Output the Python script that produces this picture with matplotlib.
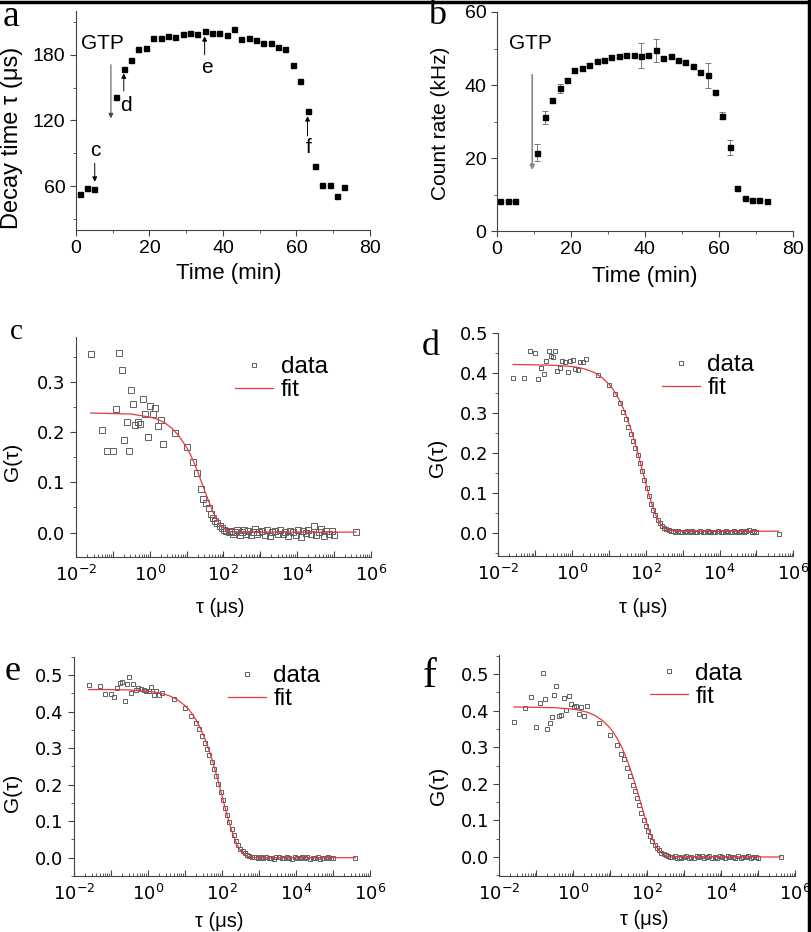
import matplotlib
matplotlib.use('Agg')
import matplotlib.pyplot as plt
from matplotlib.lines import Line2D
from matplotlib.ticker import MultipleLocator, LogLocator, NullFormatter, FuncFormatter
import numpy as np

plt.rcParams['font.family'] = ['Liberation Sans', 'DejaVu Sans']
plt.rcParams['mathtext.default'] = 'regular'

# panel a / b : time course
time_min = [1, 3, 5, 11, 13, 15, 17, 19, 21, 23, 25, 27, 29, 31, 33, 35, 37, 39,
            41, 43, 45, 47, 49, 51, 53, 55, 57, 59, 61, 63, 65, 67, 69, 71, 73]
decay_time = [53.3, 57.9, 57.0, 141.8, 167.0, 175.0, 185.5, 186.0, 195.0, 195.0,
              197.0, 196.0, 199.0, 200.0, 199.0, 202.0, 200.0, 200.0, 198.0, 204.0,
              194.0, 195.0, 193.4, 191.0, 190.7, 187.0, 185.0, 171.0, 156.0, 128.7,
              78.0, 61.0, 61.0, 51.5, 59.0]
count_rate = [8.1, 8.2, 8.2, 21.4, 31.1, 35.9, 39.1, 41.5, 44.0, 44.6, 45.6, 46.5,
              46.9, 47.8, 47.9, 48.3, 48.1, 48.0, 48.3, 49.5, 47.5, 47.9, 46.8, 46.2,
              45.1, 43.5, 42.7, 38.1, 31.6, 22.9, 11.9, 9.1, 8.5, 8.5, 8.2]
count_err = [0.3, 0.3, 0.3, 2.3, 1.7, 0.5, 1.2, 0.5, 0.6, 0.6, 0.5, 0.4, 0.4, 0.4,
             0.4, 0.4, 0.4, 3.4, 0.5, 3.1, 0.4, 0.4, 0.4, 0.4, 0.4, 0.5, 3.4, 0.5,
             0.9, 2.1, 0.5, 0.3, 0.3, 0.3, 0.3]

# panels c-f : correlation curves, lag time as log10(tau / us)
log_tau = [-1.60, -1.30, -1.15, -1.00, -0.91, -0.83, -0.76, -0.70, -0.62, -0.57,
           -0.52, -0.46, -0.40, -0.33, -0.26, -0.19, -0.12, -0.05, 0.02, 0.08,
           0.15, 0.22, 0.30, 0.37,
           0.70, 1.00, 1.17, 1.29, 1.38, 1.46, 1.53, 1.60, 1.66, 1.72, 1.78, 1.84,
           1.90, 1.96, 2.02, 2.08, 2.14, 2.20, 2.26, 2.32, 2.38, 2.44, 2.50, 2.56,
           2.62, 2.68, 2.74, 2.80, 2.86, 2.92, 2.98,
           3.05, 3.12, 3.19, 3.26, 3.33, 3.40, 3.47, 3.54, 3.61, 3.68, 3.75, 3.82,
           3.89, 3.96, 4.03, 4.10, 4.17, 4.24, 4.31, 4.38, 4.45, 4.52, 4.59, 4.66,
           4.73, 4.80, 4.87, 4.94, 5.00,
           5.60]

g_c = [0.355, 0.204, 0.163, 0.163, 0.246, 0.358, 0.323, 0.184, 0.220, 0.163,
       0.283, 0.257, 0.215, 0.220, 0.217, 0.265, 0.236, 0.191, 0.253, 0.237,
       0.249, 0.212, 0.225, 0.177,
       0.199, 0.171, 0.140, 0.119, 0.087, 0.066, 0.058, 0.049, 0.038, 0.030, 0.024, 0.019,
       0.014, 0.010, 0.006, 0.003, 0.001, 0.004, -0.003, 0.002, 0.006, -0.004, 0.001, 0.005,
       -0.002, 0.003, -0.005, 0.002, 0.007, -0.003, 0.001,
       0.003, -0.004, 0.005, -0.006, 0.002, 0.004, -0.003, 0.006, -0.002, 0.001, -0.007, 0.004,
       0.002, -0.004, 0.005, -0.008, 0.003, 0.000, 0.006, -0.003, 0.013, -0.005, 0.002, 0.007,
       -0.006, 0.003, -0.002, 0.004, -0.004,
       0.001]
g_d = [0.389, 0.387, 0.455, 0.451, 0.385, 0.412, 0.398, 0.430, 0.456, 0.442,
       0.440, 0.455, 0.406, 0.412, 0.430, 0.429, 0.402, 0.431, 0.433, 0.410,
       0.409, 0.429, 0.427, 0.436,
       0.395, 0.370, 0.348, 0.325, 0.303, 0.285, 0.266, 0.247, 0.230, 0.213, 0.196, 0.175,
       0.155, 0.134, 0.112, 0.092, 0.074, 0.058, 0.045, 0.034, 0.026, 0.019, 0.014, 0.010,
       0.008, 0.006, 0.005, 0.004, 0.005, 0.003, 0.004,
       0.003, 0.005, 0.002, 0.006, 0.004, 0.003, 0.005, 0.002, 0.004, 0.006, 0.003, 0.004,
       0.002, 0.005, 0.004, 0.003, 0.006, 0.004, 0.002, 0.005, 0.003, 0.004, 0.006, 0.003,
       0.005, 0.007, 0.004, 0.006, 0.003,
       -0.001]
g_e = [0.473, 0.469, 0.448, 0.448, 0.441, 0.465, 0.478, 0.480, 0.428, 0.474,
       0.495, 0.451, 0.475, 0.460, 0.465, 0.462, 0.460, 0.457, 0.455, 0.466,
       0.445, 0.457, 0.444, 0.451,
       0.435, 0.410, 0.387, 0.368, 0.351, 0.332, 0.315, 0.298, 0.280, 0.262, 0.243, 0.224,
       0.203, 0.180, 0.158, 0.137, 0.117, 0.097, 0.078, 0.061, 0.046, 0.034, 0.025, 0.018,
       0.012, 0.008, 0.005, 0.003, 0.002, 0.001, 0.000,
       0.001, -0.002, 0.002, -0.001, 0.000, -0.003, 0.002, 0.001, -0.002, 0.000, 0.002, -0.001,
       -0.003, 0.001, 0.000, -0.002, 0.002, -0.001, 0.001, -0.003, 0.000, -0.002, 0.002, -0.004,
       0.000, -0.002, 0.001, -0.001, 0.000,
       0.000]
g_f = [0.368, 0.408, 0.438, 0.356, 0.422, 0.504, 0.431, 0.349, 0.365, 0.383,
       0.442, 0.467, 0.386, 0.388, 0.435, 0.401, 0.440, 0.417, 0.409, 0.412,
       0.390, 0.409, 0.385, 0.413,
       0.365, 0.332, 0.307, 0.281, 0.267, 0.244, 0.222, 0.198, 0.180, 0.160, 0.141, 0.121,
       0.102, 0.086, 0.071, 0.058, 0.045, 0.034, 0.025, 0.018, 0.012, 0.008, 0.005, 0.003,
       0.001, -0.001, 0.002, -0.002, 0.001, -0.003, 0.000,
       0.002, -0.003, 0.001, -0.004, 0.003, -0.001, 0.002, -0.003, 0.000, 0.003, -0.002, 0.001,
       -0.004, 0.002, 0.000, -0.003, 0.003, -0.001, 0.001, -0.002, 0.004, -0.003, 0.001, -0.001,
       0.002, -0.004, 0.001, 0.000, -0.002,
       0.001]

# fitted curves
fit_log_tau = [-1.6, -1.0, -0.5, 0.0, 0.2, 0.4, 0.6, 0.8, 1.0, 1.1, 1.2, 1.3, 1.4, 1.5,
               1.6, 1.7, 1.8, 1.9, 2.0, 2.1, 2.2, 2.3, 2.4, 2.5, 2.6, 2.7, 2.8, 3.0,
               3.5, 4.0, 5.0, 5.6]
fit_c = [0.238, 0.237, 0.236, 0.230, 0.226, 0.219, 0.208, 0.192, 0.170, 0.156, 0.140,
         0.122, 0.102, 0.082, 0.063, 0.044, 0.029, 0.017, 0.009, 0.004, 0.002, 0.001,
         0.001, 0.001, 0.001, 0.001, 0.001, 0.001, 0.001, 0.001, 0.001, 0.001]
fit_d = [0.422, 0.421, 0.420, 0.417, 0.414, 0.409, 0.402, 0.390, 0.373, 0.361, 0.347,
         0.330, 0.310, 0.286, 0.259, 0.228, 0.195, 0.160, 0.125, 0.091, 0.063, 0.039,
         0.023, 0.013, 0.008, 0.006, 0.005, 0.005, 0.005, 0.005, 0.005, 0.005]
fit_e = [0.460, 0.460, 0.459, 0.455, 0.453, 0.449, 0.442, 0.432, 0.416, 0.406, 0.393,
         0.377, 0.358, 0.335, 0.309, 0.279, 0.245, 0.208, 0.169, 0.131, 0.094, 0.063,
         0.037, 0.020, 0.009, 0.003, 0.001, 0.0, 0.0, 0.0, 0.0, 0.0]
fit_f = [0.410, 0.409, 0.408, 0.404, 0.400, 0.395, 0.386, 0.372, 0.352, 0.338, 0.321,
         0.302, 0.279, 0.252, 0.222, 0.190, 0.155, 0.121, 0.088, 0.059, 0.036, 0.019,
         0.009, 0.003, 0.001, 0.0, 0.0, 0.0, 0.0, 0.0, 0.0, 0.0]

W, H = 812, 932
fig = plt.figure(figsize=(W / 100, H / 100), dpi=100)


def box(l, t, r, b):
    return [l / W, 1 - b / H, (r - l) / W, (b - t) / H]


def style(ax):
    for s in ['top', 'right']:
        ax.spines[s].set_visible(False)
    for s in ['left', 'bottom']:
        ax.spines[s].set_color('#444444')
        ax.spines[s].set_linewidth(0.8)


# ---- a ----
ax = fig.add_axes(box(76, 11, 370, 230))
style(ax)
ax.plot(time_min, decay_time, 's', color='black', ms=3.6)
ax.set_xlim(0, 80)
ax.set_ylim(20, 220)
ax.xaxis.set_major_locator(MultipleLocator(20))
ax.xaxis.set_minor_locator(MultipleLocator(10))
ax.yaxis.set_major_locator(MultipleLocator(60))
ax.yaxis.set_minor_locator(MultipleLocator(30))
ax.tick_params(which='both', direction='out', labelsize=14, color='#444444')
ax.tick_params(which='major', length=4)
ax.tick_params(which='minor', length=2.5)
ax.set_xlabel('Time (min)', fontsize=16, va='center')
ax.set_ylabel('Decay time τ (μs)', fontsize=17, va='center')
ax.xaxis.set_label_coords(0.52, -0.20)
ax.yaxis.set_label_coords(-0.218, 0.42)
arr = dict(arrowstyle='-|>', lw=0.7, color='black', mutation_scale=7, shrinkA=0, shrinkB=0)
ax.text(7.3, 190.6, 'GTP', fontsize=15, ha='center', va='center')
ax.annotate('', xy=(9.5, 122), xytext=(9.5, 171),
            arrowprops=dict(arr, color='#444444'))
for lab, tx, ty, x0, y0, y1 in [('c', 5.3, 93, 5.1, 81, 64), ('d', 13.6, 134, 13.0, 147, 163),
                                ('e', 35.6, 168, 35.0, 180, 197), ('f', 63.3, 95, 63.0, 106, 124)]:
    ax.text(tx, ty, lab, fontsize=15, ha='center', va='center')
    ax.annotate('', xy=(x0, y1), xytext=(x0, y0), arrowprops=arr)

# ---- b ----
ax = fig.add_axes(box(496.7, 12, 792.7, 231))
style(ax)
ax.errorbar(time_min, count_rate, yerr=count_err, fmt='s', color='black', ms=3.6,
            ecolor='#777777', elinewidth=0.7, capsize=2, capthick=0.7)
ax.set_xlim(0, 80)
ax.set_ylim(0, 60)
ax.xaxis.set_major_locator(MultipleLocator(20))
ax.xaxis.set_minor_locator(MultipleLocator(10))
ax.yaxis.set_major_locator(MultipleLocator(20))
ax.yaxis.set_minor_locator(MultipleLocator(10))
ax.tick_params(which='both', direction='out', labelsize=14, color='#444444')
ax.tick_params(which='major', length=4)
ax.tick_params(which='minor', length=2.5)
ax.set_xlabel('Time (min)', fontsize=16, va='center')
ax.set_ylabel('Count rate (kHz)', fontsize=15, va='center')
ax.xaxis.set_label_coords(0.50, -0.21)
ax.yaxis.set_label_coords(-0.19, 0.49)
ax.text(9.0, 51.5, 'GTP', fontsize=15, ha='center', va='center')
ax.annotate('', xy=(9.6, 16.7), xytext=(9.6, 42.8),
            arrowprops=dict(arrowstyle='-|>', lw=1.2, color='#888888', mutation_scale=7,
                            shrinkA=0, shrinkB=0))


# ---- c-f ----
def log_fmt(v, pos):
    e = int(round(np.log10(v)))
    return '$10^{%d}$' % e if e % 2 == 0 else ''


fcs_panels = [
    (box(76, 336.7, 370.7, 556.7), g_c, fit_c, (-0.048, 0.39), 4.3, (-0.214, 0.43), -0.23, (0.54, 0.912)),
    (box(498.3, 333.3, 793.3, 556), g_d, fit_d, (-0.057, 0.5), 3.0, (-0.205, 0.44), -0.23, (0.555, 0.907)),
    (box(74, 656.7, 370, 876), g_e, fit_e, (-0.05, 0.55), 3.0, (-0.208, 0.38), -0.207, (0.52, 0.962)),
    (box(499.3, 655, 795.3, 876), g_f, fit_f, (-0.052, 0.552), 3.0, (-0.204, 0.41), -0.195, (0.509, 0.965)),
]
tau = 10 ** np.array(log_tau)
tau_fit = 10 ** np.array(fit_log_tau)
for rect, g, fit, ylim, ms, ylc, xly, leg_at in fcs_panels:
    ax = fig.add_axes(rect)
    style(ax)
    hd, = ax.plot(tau, g, 's', mfc='none', mec='#606060', mew=0.7, ms=ms, label='data')
    hf, = ax.plot(tau_fit, fit, '-', color='#e8383d', lw=0.9, label='fit')
    ax.set_xscale('log')
    ax.set_xlim(1e-2, 1e6)
    ax.set_ylim(*ylim)
    ax.xaxis.set_major_locator(LogLocator(base=10, numticks=20))
    ax.xaxis.set_major_formatter(FuncFormatter(log_fmt))
    ax.xaxis.set_minor_locator(LogLocator(base=10, subs=np.arange(2, 10), numticks=100))
    ax.xaxis.set_minor_formatter(NullFormatter())
    ax.yaxis.set_major_locator(MultipleLocator(0.1))
    ax.yaxis.set_minor_locator(MultipleLocator(0.05))
    ax.tick_params(axis='x', which='both', direction='in', pad=6, color='#444444')
    ax.tick_params(axis='y', which='both', direction='out', color='#444444')
    ax.tick_params(which='major', length=4)
    ax.tick_params(which='minor', length=2.2)
    for t in ax.get_xticklabels() + ax.get_yticklabels():
        t.set_fontfamily('DejaVu Sans')
        t.set_fontsize(13)
    ax.set_xlabel('τ (μs)', fontsize=14.5, va='center')
    ax.set_ylabel('G(τ)', fontsize=15, va='center')
    ax.xaxis.set_label_coords(0.49, xly)
    ax.yaxis.set_label_coords(*ylc)
    ax.legend(handles=[hd, hf], loc='upper left', bbox_to_anchor=leg_at, frameon=False,
              fontsize=17.5, handlelength=1.57, handletextpad=0.3, labelspacing=0.05,
              borderpad=0, borderaxespad=0, numpoints=1, markerscale=0.8)

# panel letters
for lab, x, y, size in [('a', 3, 26, 27), ('b', 428, 24, 26), ('c', 10, 339, 21),
                        ('d', 422, 355, 26), ('e', 5, 680, 26), ('f', 423, 687, 30)]:
    fig.text(x / W, 1 - y / H, lab, fontsize=size, family='Liberation Serif',
             ha='left', va='baseline')

# border of the original scan (top and right edges)
fig.add_artist(Line2D([0, 1], [0.998, 0.998], transform=fig.transFigure, color='black', lw=2.5))
fig.add_artist(Line2D([0.9965, 0.9965], [0, 1], transform=fig.transFigure, color='black', lw=2.5))

fig.savefig('out.png', dpi=100)
